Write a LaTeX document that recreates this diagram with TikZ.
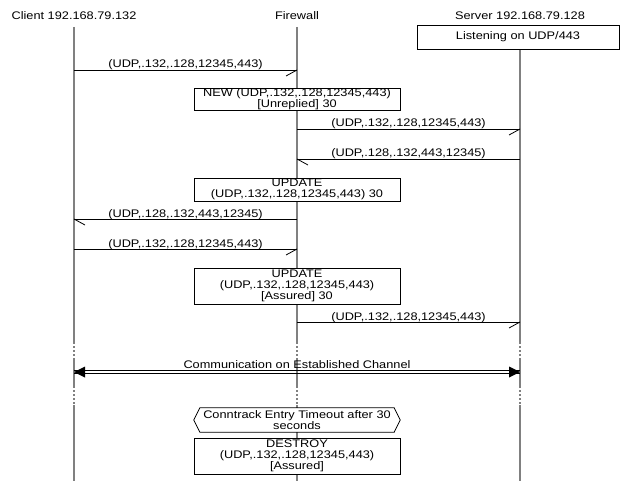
\documentclass[tikz,border=0pt]{standalone}
\usepackage{fontspec}
\setmainfont{Liberation Sans}[FakeStretch=1.16]
\newcommand{\mfont}{\fontsize{11}{11}\selectfont}
\begin{document}
\begin{tikzpicture}[x=1pt,y=-1pt,
  hdr/.style={anchor=base,inner sep=0pt,font=\mfont},
  life/.style={draw=black!50,line width=1.3pt},
  lifedot/.style={draw=black!50,line width=1.3pt,dash pattern=on 1.5pt off 2.5pt},
  msg/.style={draw=black,line width=0.8pt},
  lbl/.style={anchor=base,inner sep=0pt,yshift=2pt,font=\mfont},
  ebox/.style={draw=black,fill=white,line width=0.8pt,minimum width=206pt,inner sep=0pt,align=center,font=\mfont},
  hexbox/.style={fill=white,minimum width=206pt,inner sep=0pt,align=center,font=\mfont}
]
\useasboundingbox (0,0) rectangle (620,481);
% headers
\node[hdr] (hc) at (74,19.5) {Client 192.168.79.132};
\node[hdr] (hf) at (297,19.5) {Firewall};
\node[hdr] (hs) at (520,19.5) {Server 192.168.79.128};
% lifelines
\foreach \n/\t in {hc/27,hf/27,hs/49}{
  \draw[life] (\n |- 0,\t) -- (\n |- 0,342);
  \draw[lifedot] (\n |- 0,342) -- (\n |- 0,358);
  \draw[life] (\n |- 0,358) -- (\n |- 0,386);
  \draw[lifedot] (\n |- 0,386) -- (\n |- 0,405);
  \draw[life] (\n |- 0,405) -- (\n |- 0,481);
}
% server box
\node[ebox,minimum width=202pt,minimum height=24pt] (listen) at (518,37) {Listening on UDP/443};
% message 1
\draw[msg] (hc |- 0,70) -- node[lbl] {(UDP,.132,.128,12345,443)} (hf |- 0,70);
\draw[msg] (hf |- 0,70) -- ++(-11,6);
% NEW box
\node[ebox,minimum height=22pt] (new) at (297,99) {NEW (UDP,.132,.128,12345,443)\\{}[Unreplied] 30};
% message 2
\draw[msg] (hf |- 0,129) -- node[lbl] {(UDP,.132,.128,12345,443)} (hs |- 0,129);
\draw[msg] (hs |- 0,129) -- ++(-11,6);
% message 3
\draw[msg] (hs |- 0,159) -- node[lbl] {(UDP,.128,.132,443,12345)} (hf |- 0,159);
\draw[msg] (hf |- 0,159) -- ++(11,6);
% UPDATE 1
\node[ebox,minimum height=23pt] (upd1) at (297,189.5) {UPDATE\\(UDP,.132,.128,12345,443) 30};
% message 4
\draw[msg] (hf |- 0,219) -- node[lbl] {(UDP,.128,.132,443,12345)} (hc |- 0,219);
\draw[msg] (hc |- 0,219) -- ++(11,6);
% message 5
\draw[msg] (hc |- 0,249) -- node[lbl] {(UDP,.132,.128,12345,443)} (hf |- 0,249);
\draw[msg] (hf |- 0,249) -- ++(-11,6);
% UPDATE 2
\node[ebox,minimum height=36pt] (upd2) at (297,286) {UPDATE\\(UDP,.132,.128,12345,443)\\{}[Assured] 30};
% message 6
\draw[msg] (hf |- 0,322) -- node[lbl] {(UDP,.132,.128,12345,443)} (hs |- 0,322);
\draw[msg] (hs |- 0,322) -- ++(-11,6);
% communication
\coordinate (cl) at (hc |- 0,372);
\coordinate (cr) at (hs |- 0,372);
\draw[msg] ([yshift=1.3pt]cl) -- ([yshift=1.3pt]cr);
\draw[msg] ([yshift=-1.3pt]cl) -- ([yshift=-1.3pt]cr);
\path (cl) -- node[lbl,yshift=1.5pt] {Communication on Established Channel} (cr);
\fill[black] (cl) -- ++(11,-5.5) -- ++(0,11) -- cycle;
\fill[black] (cr) -- ++(-11,-5.5) -- ++(0,11) -- cycle;
% timeout hexagon
\node[hexbox,minimum height=24pt] (tmo) at (297,420) {Conntrack Entry Timeout after 30\\seconds};
\draw[msg] (tmo.west) -- ([xshift=6pt]tmo.north west) -- ([xshift=-6pt]tmo.north east) -- (tmo.east) -- ([xshift=-6pt]tmo.south east) -- ([xshift=6pt]tmo.south west) -- cycle;
% DESTROY
\node[ebox,minimum height=36pt] (dst) at (297,456) {DESTROY\\(UDP,.132,.128,12345,443)\\{}[Assured]};
\end{tikzpicture}
\end{document}
